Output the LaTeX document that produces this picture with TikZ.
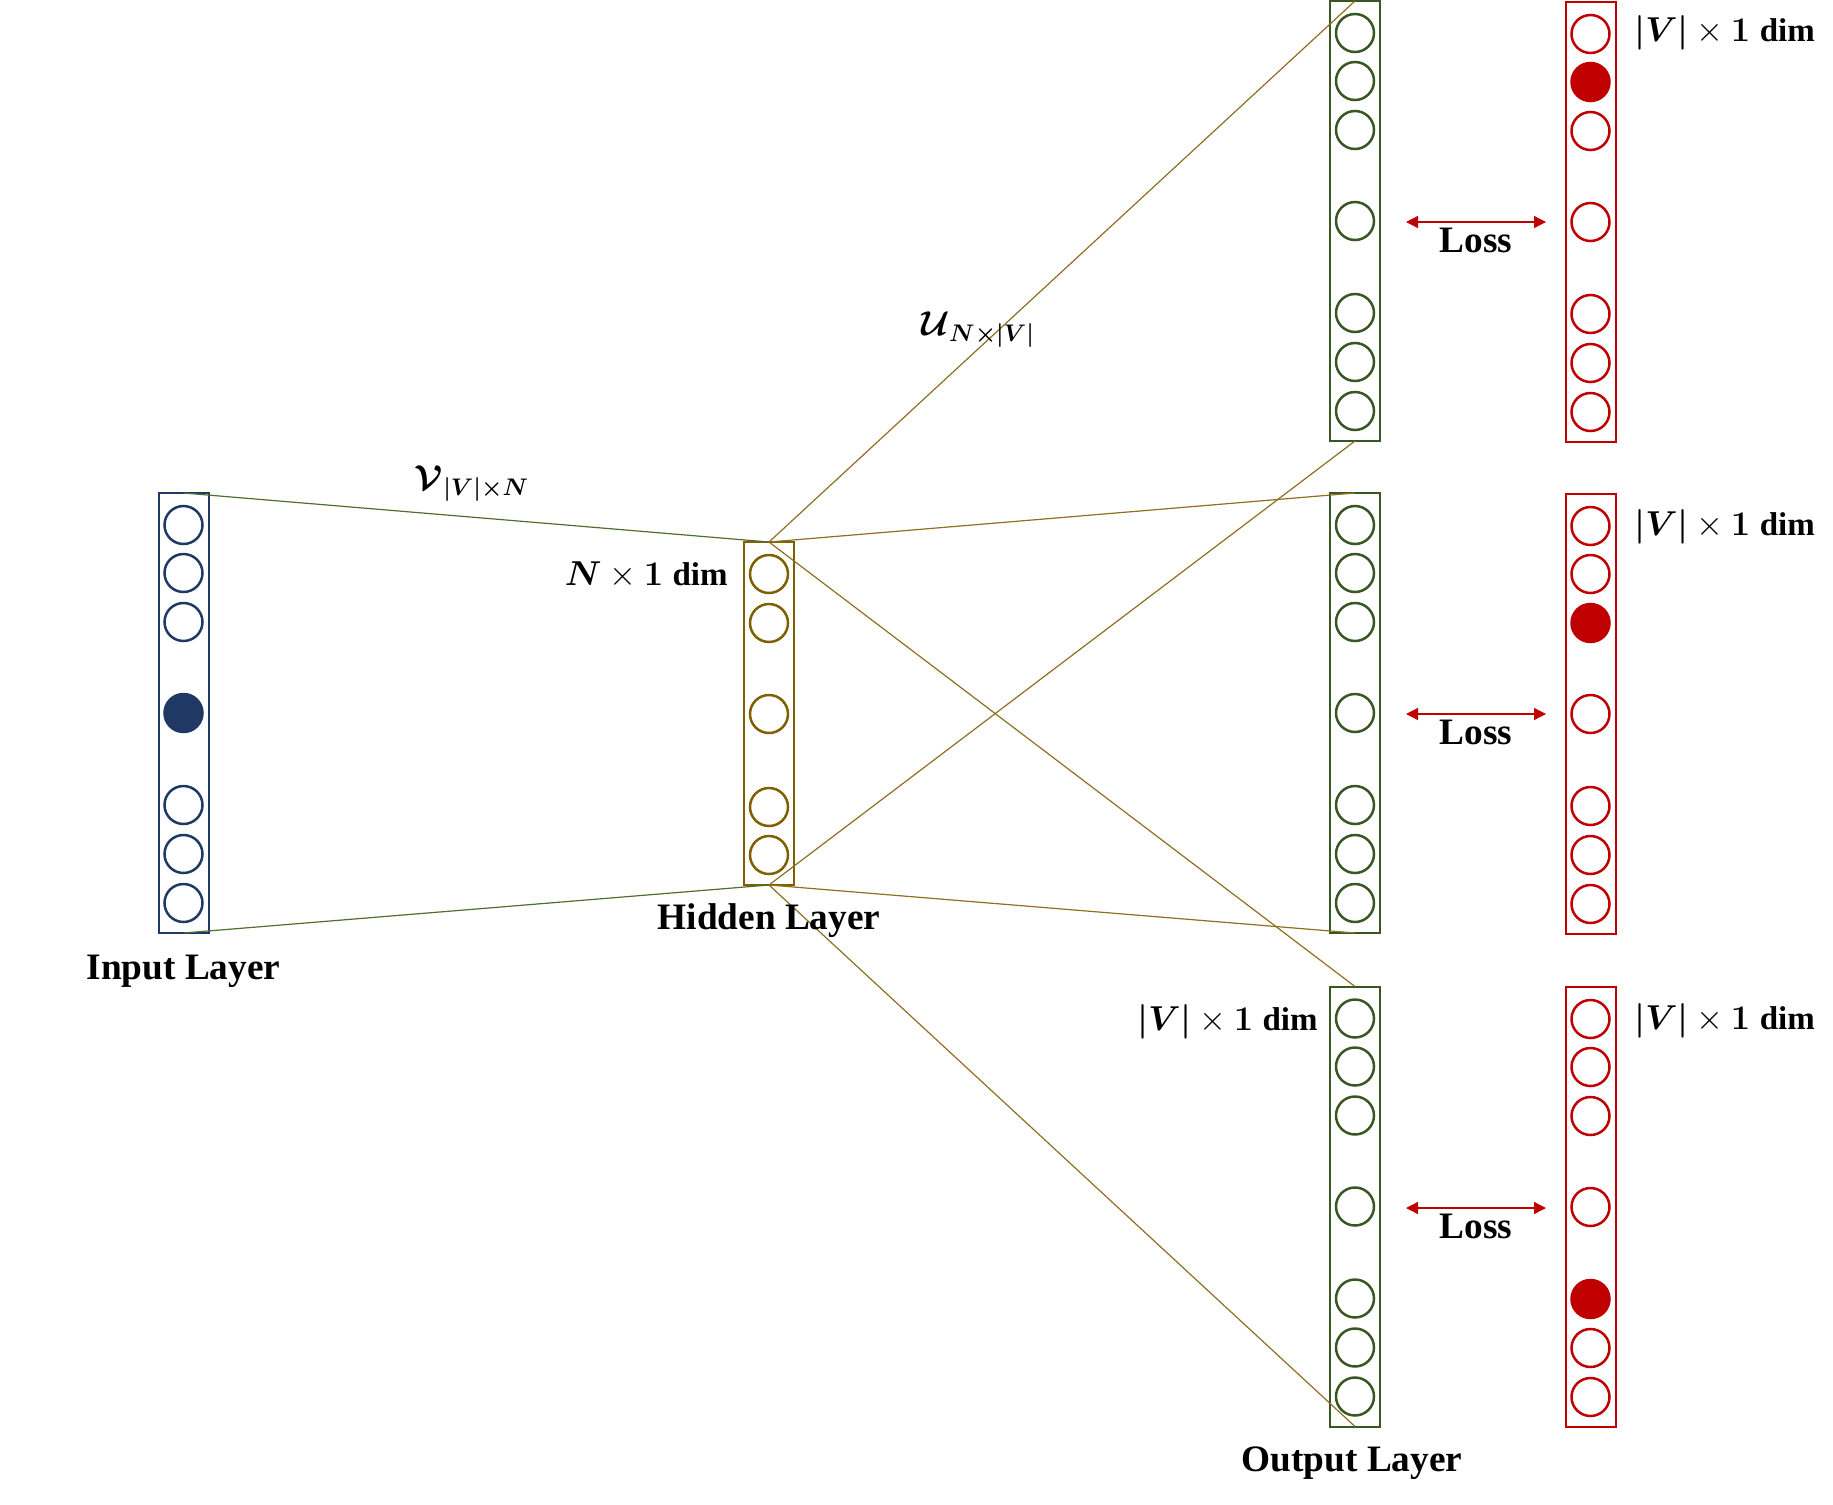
\documentclass[tikz,border=0pt]{standalone}
\usepackage{amsmath}
\usepackage{bm}
\usepackage{fontspec}
\setmainfont{Liberation Serif}
\usetikzlibrary{arrows.meta}
\definecolor{navy}{HTML}{203864}
\definecolor{gold}{HTML}{7F6000}
\definecolor{dgreen}{HTML}{385723}
\definecolor{dred}{HTML}{C00000}
\definecolor{lgreen}{HTML}{4F6F2F}
\definecolor{lgold}{HTML}{8F6F20}
\newcommand{\dimtxt}{{\fontsize{16.5}{20}\selectfont dim}}
\begin{document}
\begin{tikzpicture}[x=0.5pt,y=-0.5pt,
  layerbox/.style={draw, line width=1pt, minimum width=25pt, inner sep=0pt, outer sep=0pt},
  neuron/.style={circle, draw, line width=1.25pt, minimum size=19pt, inner sep=0pt},
  lbl/.style={font=\fontsize{18.65}{22}\selectfont\bfseries, inner sep=0pt},
  wline/.style={line width=0.6pt},
  lossarrow/.style={draw=dred, line width=0.65pt, arrows={Triangle[length=6pt,width=6pt]-Triangle[length=6pt,width=6pt]}}
]
\useasboundingbox (0,0) rectangle (1833,1505);

% input layer
\node[layerbox, draw=navy, minimum height=220pt] (inp) at (183.5,713) {};
\foreach \o/\f [count=\i] in {-188/white,-140/white,-91/white,0/navy,92/white,141/white,190/white}
  \node[neuron, draw=navy, fill=\f] (in\i) at (183.5,713+\o) {};

% hidden layer
\node[layerbox, draw=gold, line width=1.1pt, minimum height=171.5pt] (hid) at (769,713.5) {};
\foreach \y [count=\i] in {574,623,714,807,855}
  \node[neuron, draw=gold] (h\i) at (769,\y) {};

% output layers (green)
\foreach \c [count=\k] in {221,713,1206.5} {
  \node[layerbox, draw=dgreen, minimum height=220pt] (o\k) at (1355,\c) {};
  \foreach \o [count=\i] in {-188,-140,-91,0,92,141,190}
    \node[neuron, draw=dgreen] (o\k n\i) at (1355,\c+\o) {};
}

% target layers (red)
\node[layerbox, draw=dred, minimum height=220pt] (t1) at (1590.5,222) {};
\foreach \o/\f [count=\i] in {-188/white,-140/dred,-91/white,0/white,92/white,141/white,190/white}
  \node[neuron, draw=dred, fill=\f] (t1n\i) at (1590.5,222+\o) {};
\node[layerbox, draw=dred, minimum height=220pt] (t2) at (1590.5,714) {};
\foreach \o/\f [count=\i] in {-188/white,-140/white,-91/dred,0/white,92/white,141/white,190/white}
  \node[neuron, draw=dred, fill=\f] (t2n\i) at (1590.5,714+\o) {};
\node[layerbox, draw=dred, minimum height=220pt] (t3) at (1590.5,1207) {};
\foreach \o/\f [count=\i] in {-188/white,-140/white,-91/white,0/white,92/dred,141/white,190/white}
  \node[neuron, draw=dred, fill=\f] (t3n\i) at (1590.5,1207+\o) {};

% weight connectors
\draw[wline, lgreen] (inp.north) -- (hid.north);
\draw[wline, lgreen] (inp.south) -- (hid.south);
\foreach \k in {1,2,3} {
  \draw[wline, lgold] (hid.north) -- (o\k.north);
  \draw[wline, lgold] (hid.south) -- (o\k.south);
}

% loss arrows
\foreach \y/\k in {222/1,714/2,1208/3} {
  \coordinate (la\k) at (1406,\y);
  \coordinate (lb\k) at (1546,\y);
  \draw[lossarrow] (la\k) -- (lb\k);
  \node[lbl] (loss\k) at (1476,\y+18.5) {Loss};
}

% labels
\node[lbl] (linp) at (183.5,971.5) {Input Layer};
\node[lbl] (lhid) at (769,920.5) {Hidden Layer};
\node[lbl] (lout) at (1352,1463.5) {Output Layer};
\node[lbl, anchor=east] (dimh) at (728,575) {$\bm{N}\times\bm{1}$ \dimtxt};
\node[lbl, anchor=east] (dimo) at (1318,1022) {$\bm{|V|}\times\bm{1}$ \dimtxt};
\foreach \y [count=\k] in {33,527,1021}
  \node[lbl, anchor=west] (dimt\k) at (1634,\y) {$\bm{|V|}\times\bm{1}$ \dimtxt};
\node[lbl] (wv) at (472,484) {$\bm{\mathcal{V}}_{\bm{|V|\times N}}$};
\node[lbl] (wu) at (978,330) {$\bm{\mathcal{U}}_{\bm{N\times|V|}}$};
\end{tikzpicture}
\end{document}
